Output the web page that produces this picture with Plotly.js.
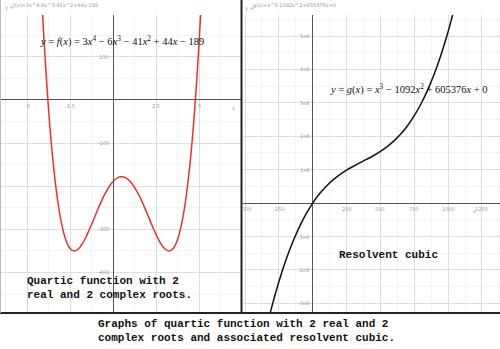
<!DOCTYPE html>
<html><head><meta charset="utf-8">
<script src="https://cdn.plot.ly/plotly-3.0.1.min.js"></script>
<style>html,body{margin:0;padding:0;background:#fff}#chart{width:500px;height:349px}</style>
</head><body><div id="chart"></div>
<script>
// Quartic f(x) = 3x^4 - 6x^3 - 41x^2 + 44x - 189
const quarticX = [-4.1,-4,-3.75,-3.5,-3.25,-3,-2.75,-2.5,-2.25,-2,-1.75,-1.5,-1.25,-1,-0.75,-0.5,-0.25,0,0.25,0.5,0.75,1,1.25,1.5,1.75,2,2.25,2.5,2.75,3,3.25,3.5,3.75,4,4.25,4.5,4.75,5,5.1];
const quarticY = [202.6,131,-20.9,-137.8,-224.4,-285,-323.7,-344.3,-350.3,-345,-331.3,-311.8,-289.0,-265,-241.6,-220.3,-202.5,-189,-180.6,-177.8,-180.6,-189,-202.5,-220.3,-241.6,-265,-289.0,-311.8,-331.3,-345,-350.3,-344.3,-323.7,-285,-224.4,-137.8,-20.9,131,202.6];
// Resolvent cubic g(x) = x^3 - 1092x^2 + 605376x (values in millions)
const cubicX = [-350,-300,-250,-200,-150,-100,-50,0,50,100,150,200,250,300,350,400,450,500,550,600,650,700,750,800,850,900,950,1000,1050];
const cubicY = [-388.5,-306.9,-235.2,-172.8,-118.8,-72.5,-33.1,0,27.7,50.6,69.6,85.4,98.7,110.3,121.0,131.4,142.4,154.7,169.0,186.1,206.8,231.7,261.7,297.4,339.7,389.3,447.0,513.4,589.3];

// tick labels
const leftXTicks = [-5,-2.5,2.5,5];
const leftXLabels = ["-5","-2.5","2.5","5"];
const leftYTicks = [100,-100,-300,-400];
const leftYLabels = ["100","-100","-300","-400"];
const rightXTicks = [-500,-250,250,500,750,1000,1250];
const rightXLabels = ["-500","-250","250","500","750","1000","1250"];
const rightYTicks = [500,400,300,200,100,-100,-200,-300];
const rightYLabels = ["5e8","4e8","3e8","2e8","1e8","-1e8","-2e8","-3e8"];

const eqLeft = "<i>y</i> = <i>f</i>(<i>x</i>) = 3<i>x</i><sup>4</sup> − 6<i>x</i><sup>3</sup> − 41<i>x</i><sup>2</sup> + 44<i>x</i> − 189";
const eqRight = "<i>y</i> = <i>g</i>(<i>x</i>) = <i>x</i><sup>3</sup> − 1092<i>x</i><sup>2</sup> + 605376<i>x</i> + 0";
const labelLeft = ["Quartic function with 2", "real and 2 complex roots."];
const labelRight = "Resolvent cubic";
const caption = ["Graphs of quartic function with 2 real and 2", "complex roots and associated resolvent cubic."];

const W = 500, H = 349;
const px = v => v / W, py = v => 1 - v / H;
const yDom = [py(313), py(15)];
const mono = {family: "Liberation Mono, Courier New, monospace", size: 11, color: "#111"};
const tickFont = {family: "DejaVu Sans, sans-serif", size: 5, color: "#999"};
const boldLines = arr => arr.map(s => "<b>" + s + "</b>").join("<br>");

function axisCommon(extra) {
  return Object.assign({
    showgrid: true, gridcolor: "#dedede", gridwidth: 1,
    zeroline: true, zerolinecolor: "#555", zerolinewidth: 1,
    showticklabels: false, ticks: "", showline: false, fixedrange: true
  }, extra);
}

const traces = [
  {x: quarticX, y: quarticY, xaxis: "x", yaxis: "y", type: "scatter", mode: "lines",
   line: {color: "#e8312f", width: 1.5, shape: "spline"}, hoverinfo: "skip"},
  {x: cubicX, y: cubicY, xaxis: "x2", yaxis: "y2", type: "scatter", mode: "lines",
   line: {color: "#111", width: 1.5, shape: "spline"}, hoverinfo: "skip"}
];

const annotations = [];
function note(o) { annotations.push(Object.assign({showarrow: false, xanchor: "center", yanchor: "middle"}, o)); }
leftXTicks.forEach((t, i) => note({xref: "x", yref: "y", x: t, y: 0, text: leftXLabels[i], yshift: -6, font: tickFont}));
leftYTicks.forEach((t, i) => note({xref: "x", yref: "y", x: 0, y: t, text: leftYLabels[i], xanchor: "right", xshift: -2, font: tickFont}));
rightXTicks.forEach((t, i) => note({xref: "x2", yref: "y2", x: t, y: 0, text: rightXLabels[i], yshift: -6, font: tickFont}));
rightYTicks.forEach((t, i) => note({xref: "x2", yref: "y2", x: 0, y: t, text: rightYLabels[i], xanchor: "right", xshift: -2, font: tickFont}));
note({xref: "paper", yref: "paper", x: px(233), y: py(108), text: "x", font: tickFont});
note({xref: "paper", yref: "paper", x: px(474), y: py(211), text: "x", font: tickFont});
note({xref: "paper", yref: "paper", x: px(3), y: py(8), xanchor: "left", text: "y =", font: tickFont});
note({xref: "paper", yref: "paper", x: px(11), y: py(5), xanchor: "left", text: "f(x)=3x^4-6x^3-41x^2+44x-189", font: tickFont});
note({xref: "paper", yref: "paper", x: px(243), y: py(9), xanchor: "left", text: "y =", font: tickFont});
note({xref: "paper", yref: "paper", x: px(251), y: py(6), xanchor: "left", text: "g(x)=x^3-1092x^2+605376x+0", font: tickFont});
note({xref: "paper", yref: "paper", x: px(122), y: py(41), text: eqLeft, font: {family: "Liberation Serif, serif", size: 10.5, color: "#111"}});
note({xref: "paper", yref: "paper", x: px(409), y: py(89), text: eqRight, font: {family: "Liberation Serif, serif", size: 10.5, color: "#111"}});
note({xref: "paper", yref: "paper", x: px(25), y: py(288), xanchor: "left", align: "left", text: boldLines(labelLeft), font: mono});
note({xref: "paper", yref: "paper", x: px(337), y: py(255), xanchor: "left", text: boldLines([labelRight]), font: mono});
note({xref: "paper", yref: "paper", x: px(96), y: py(331), xanchor: "left", align: "left", text: boldLines(caption), font: mono});

const layout = {
  width: W, height: H, margin: {l: 0, r: 0, t: 0, b: 0},
  paper_bgcolor: "#fff", plot_bgcolor: "#fff", showlegend: false,
  xaxis: axisCommon({domain: [0, px(241)], range: [-6.57, 7.44], tick0: 0, dtick: 2.5,
    minor: {dtick: 1.25, showgrid: true, gridcolor: "#f4f4f4", ticks: ""}}),
  yaxis: axisCommon({domain: yDom, range: [-494, 197], tick0: 0, dtick: 100,
    minor: {dtick: 50, showgrid: true, gridcolor: "#f4f4f4", ticks: ""}}),
  xaxis2: axisCommon({domain: [px(243), 1], range: [-515, 1383], tick0: 0, dtick: 250, anchor: "y2",
    minor: {dtick: 125, showgrid: true, gridcolor: "#f4f4f4", ticks: ""}}),
  yaxis2: axisCommon({domain: yDom, range: [-329, 563], tick0: 0, dtick: 100, anchor: "x2",
    minor: {dtick: 50, showgrid: true, gridcolor: "#f4f4f4", ticks: ""}}),
  shapes: [
    {type: "line", xref: "paper", yref: "paper", x0: px(241.5), x1: px(241.5), y0: py(313), y1: 1, line: {color: "#222", width: 2}},
    {type: "line", xref: "paper", yref: "paper", x0: 0, x1: 1, y0: py(313), y1: py(313), line: {color: "#222", width: 2}},
    {type: "line", xref: "paper", yref: "paper", x0: px(0.5), x1: px(0.5), y0: py(313), y1: 1, line: {color: "#bbb", width: 1}}
  ],
  annotations: annotations
};

Plotly.newPlot("chart", traces, layout, {staticPlot: true, displayModeBar: false});
</script>
</body></html>
